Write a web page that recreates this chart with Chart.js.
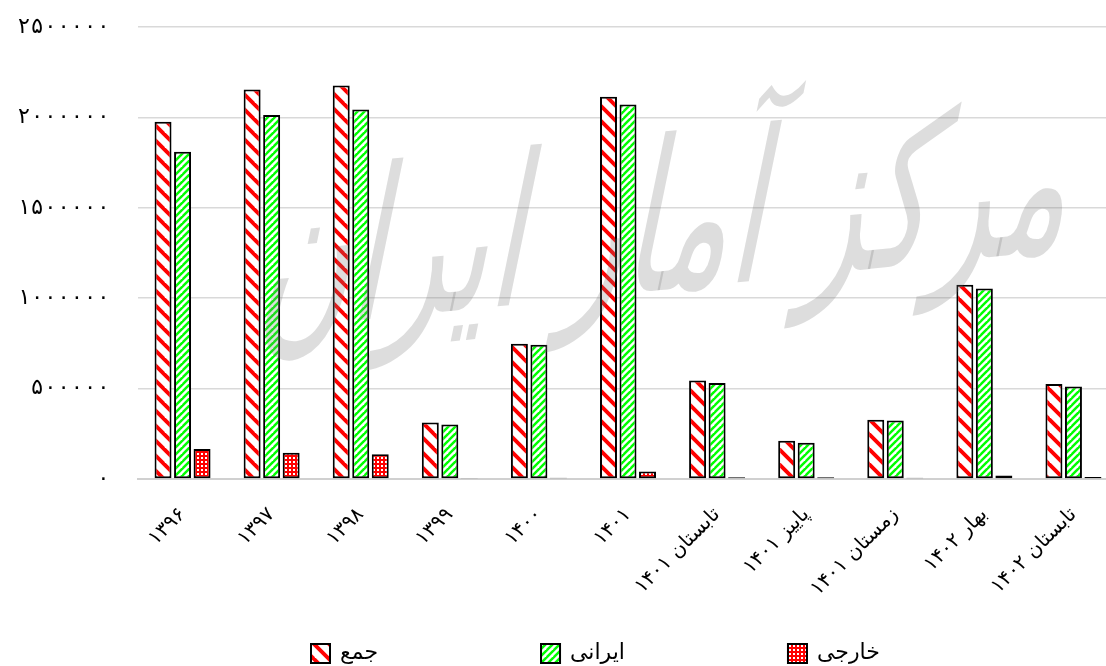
<!DOCTYPE html>
<html lang="fa">
<head>
<meta charset="utf-8">
<title>جمع، ایرانی، خارجی</title>
<script src="https://cdn.jsdelivr.net/npm/chart.js@4.4.0/dist/chart.umd.min.js"></script>
<style>
    html, body { margin: 0; padding: 0; background: #fff; overflow: hidden; }
    #wrap { width: 1118px; height: 666px; }
</style>
</head>
<body>
<div id="wrap"><canvas id="chart" width="1118" height="666"></canvas></div>
<script>
// Data
const categories = ['۱۳۹۶', '۱۳۹۷', '۱۳۹۸', '۱۳۹۹', '۱۴۰۰', '۱۴۰۱',
    'تابستان ۱۴۰۱', 'پاییز ۱۴۰۱', 'زمستان ۱۴۰۱', 'بهار ۱۴۰۲', 'تابستان ۱۴۰۲'];
const totalValues = [1976000, 2155000, 2177000, 312000, 748000, 2114000, 545000, 212000, 328000, 1074000, 525000];
const iranianValues = [1810000, 2013000, 2044000, 302000, 743000, 2072000, 531000, 200000, 323000, 1054000, 512000];
const foreignValues = [166000, 145000, 137000, 6000, 7000, 42000, 10000, 10000, 7000, 19000, 11000];
const seriesNames = ['جمع', 'ایرانی', 'خارجی'];
const yTicks = [0, 500000, 1000000, 1500000, 2000000, 2500000];
const watermarkText = 'مرکز آمار ایران';

const FONT = '"DejaVu Sans", sans-serif';
const MONO = '"DejaVu Sans Mono", "DejaVu Sans", monospace';

// Converts latin digits to Persian digits
function toPersian(v) {
    return String(v).replace(/\d/g, d => '۰۱۲۳۴۵۶۷۸۹'[d]);
}

// Builds a repeating fill pattern from a small tile
function makePattern(size, bg, draw) {
    const c = document.createElement('canvas');
    c.width = size;
    c.height = size;
    const p = c.getContext('2d');
    p.fillStyle = bg;
    p.fillRect(0, 0, size, size);
    draw(p, size);
    return document.getElementById('chart').getContext('2d').createPattern(c, 'repeat');
}

// Diagonal band inside a tile, "\" when down is true, "/" otherwise
function diagBand(p, s, w, color, down) {
    p.fillStyle = color;
    for (let k = -1; k <= 1; k++) {
        const o = k * s;
        p.beginPath();
        if (down) {
            p.moveTo(o - w / 2, 0); p.lineTo(o + w / 2, 0);
            p.lineTo(o + s + w / 2, s); p.lineTo(o + s - w / 2, s);
        } else {
            p.moveTo(o + s - w / 2, 0); p.lineTo(o + s + w / 2, 0);
            p.lineTo(o + w / 2, s); p.lineTo(o - w / 2, s);
        }
        p.closePath();
        p.fill();
    }
}

const redStripes = makePattern(15, '#fff', (p, s) => diagBand(p, s, 5.5, '#ff0000', true));
const greenStripes = makePattern(7, '#fff', (p, s) => diagBand(p, s, 3.5, '#00ff00', false));
const redDots = makePattern(4, '#ff0000', (p) => {
    p.fillStyle = '#fff';
    p.fillRect(1, 1, 2, 2);
});

// Faint watermark over the plot
const watermarkPlugin = {
    id: 'watermark',
    afterDatasetsDraw(chart) {
        const ctx = chart.ctx;
        ctx.save();
        ctx.translate(660, 290);
        ctx.transform(1, -0.1, -0.35, 1.7, 0, 0);
        ctx.font = '125px ' + FONT;
        ctx.textAlign = 'center';
        ctx.textBaseline = 'alphabetic';
        ctx.fillStyle = 'rgba(120,120,120,0.25)';
        ctx.fillText(watermarkText, 0, 0);
        ctx.restore();
    }
};

// Legend drawn under the axis labels
const legendPlugin = {
    id: 'bottomLegend',
    afterDraw(chart) {
        const ctx = chart.ctx;
        let x = chart.chartArea.left + 172;
        const y = 643;
        ctx.save();
        ctx.font = '22px ' + FONT;
        ctx.textBaseline = 'middle';
        ctx.textAlign = 'left';
        chart.data.datasets.forEach(ds => {
            ctx.fillStyle = ds.backgroundColor;
            ctx.fillRect(x, y, 21, 21);
            ctx.lineWidth = 2;
            ctx.strokeStyle = '#000';
            ctx.strokeRect(x + 1, y + 1, 19, 19);
            ctx.fillStyle = '#000';
            ctx.fillText(ds.label, x + 30, y + 10);
            x += 30 + ctx.measureText(ds.label).width + 162;
        });
        ctx.restore();
    }
};

function barSet(label, data, fill) {
    return {
        label,
        data,
        backgroundColor: fill,
        borderColor: '#000',
        borderWidth: 2,
        borderSkipped: false,
        barPercentage: 0.87,
        categoryPercentage: 0.657
    };
}

new Chart(document.getElementById('chart'), {
    type: 'bar',
    data: {
        labels: categories,
        datasets: [
            barSet(seriesNames[0], totalValues, redStripes),
            barSet(seriesNames[1], iranianValues, greenStripes),
            barSet(seriesNames[2], foreignValues, redDots)
        ]
    },
    options: {
        responsive: false,
        animation: false,
        layout: { padding: { top: 27, bottom: 47, left: 0, right: 0 } },
        plugins: {
            legend: { display: false },
            tooltip: { enabled: false }
        },
        scales: {
            x: {
                grid: { display: false, drawTicks: false },
                border: { color: '#d0d0d0', width: 2 },
                ticks: {
                    autoSkip: false,
                    minRotation: 45,
                    maxRotation: 45,
                    padding: 24,
                    color: '#000',
                    font: { family: FONT, size: 20 }
                },
                afterFit(s) { s.height = 140; }
            },
            y: {
                min: 0,
                max: 2500000,
                afterBuildTicks(s) { s.ticks = yTicks.map(v => ({ value: v })); },
                grid: {
                    color: '#d9d9d9',
                    lineWidth: 1.5,
                    drawTicks: true,
                    tickLength: 28,
                    tickColor: 'rgba(0,0,0,0)'
                },
                border: { display: false },
                ticks: {
                    padding: 0,
                    color: '#000',
                    font: { family: MONO, size: 22 },
                    callback: v => toPersian(v)
                },
                afterFit(s) { s.width = 138; }
            }
        }
    },
    plugins: [watermarkPlugin, legendPlugin]
});
</script>
</body>
</html>
